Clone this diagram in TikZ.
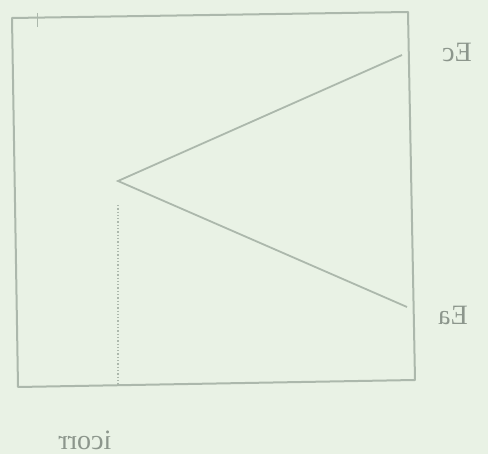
\documentclass[tikz,border=0pt]{standalone}
\usepackage{fontspec}
\setmainfont{Liberation Serif}
\usepackage{xcolor}
\definecolor{paper}{RGB}{233,242,229}
\definecolor{pencil}{RGB}{172,184,172}
\definecolor{inkgray}{RGB}{140,150,140}

\begin{document}
\begin{tikzpicture}[
	x=1pt, y=-1pt,
	% --- Styles ---
	frame/.style={
		draw=pencil, line width=2pt, line join=round
	},
	curve/.style={
		draw=pencil, line width=1.8pt
	},
	guide/.style={
		draw=pencil, line width=1.3pt, dotted
	},
	mirrored/.style={
		xscale=-1, text=inkgray, inner sep=0pt,
		font=\fontsize{28}{30}\selectfont
	}
	]
	
	% --- 0. Paper ---
	\fill [paper] (0,0) rectangle (488,454);
	\useasboundingbox (0,0) rectangle (488,454);
	
	% --- 1. Frame ---
	\coordinate (tl) at (12,18);
	\coordinate (tr) at (408,12);
	\coordinate (br) at (415,380);
	\coordinate (bl) at (18,387);
	\draw [frame] (tl) -- (tr) -- (br) -- (bl) -- cycle;
	
	% small tick near the top
	\coordinate (tick_a) at (37,13);
	\coordinate (tick_b) at (37,27);
	\draw [draw=pencil, line width=1pt] (tick_a) -- (tick_b);
	
	% --- 2. The two lines meeting at the corrosion point ---
	\coordinate (corr) at (118,181);
	\coordinate (ec_end) at (402,55);
	\coordinate (ea_end) at (407,307);
	\draw [curve] (ec_end) -- (corr) -- (ea_end);
	
	% Drop line down to the axis
	\coordinate (corr_top) at (118,205);
	\coordinate (corr_foot) at (118,385);
	\draw [guide] (corr_top) -- (corr_foot);
	
	% --- 3. Labels (mirrored as printed) ---
	\node [mirrored] (ec) at (457,52) {Ec};
	\node [mirrored] (ea) at (453,315) {Ea};
	\node [mirrored] (icorr) at (85,440) {icorr};
	
\end{tikzpicture}
\end{document}
